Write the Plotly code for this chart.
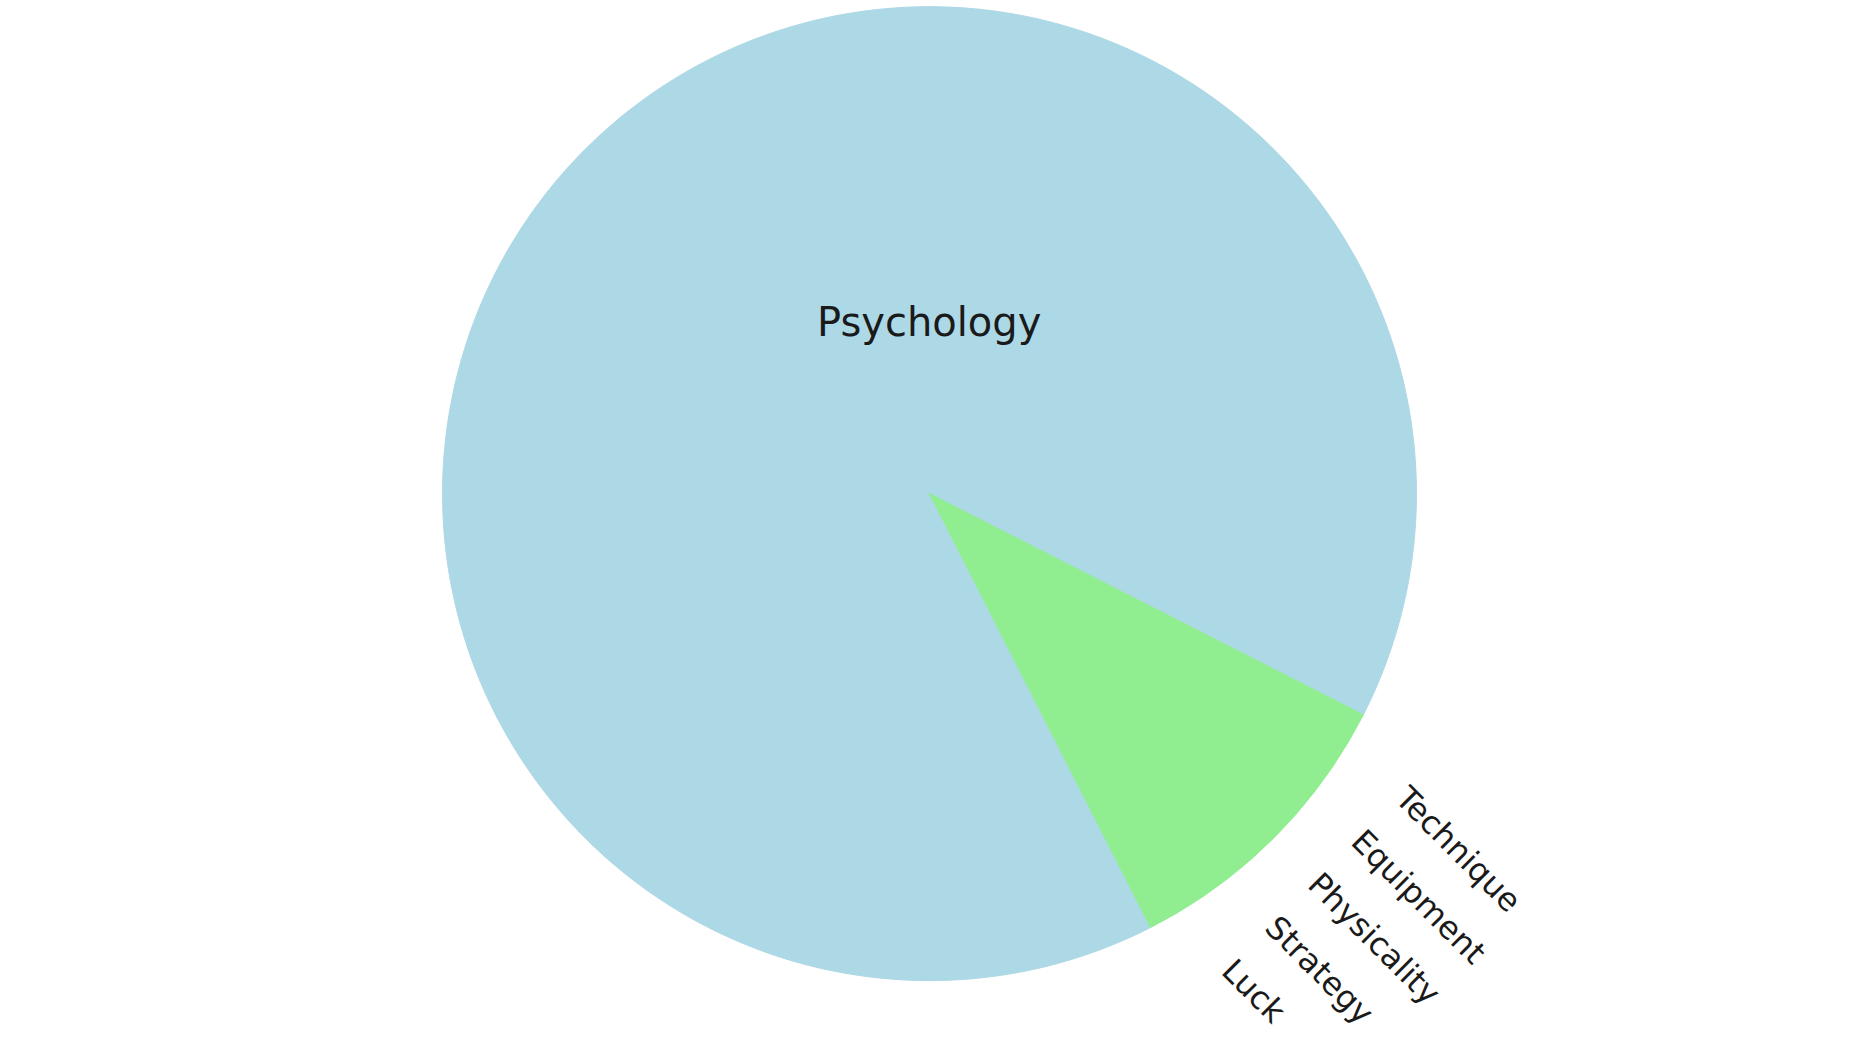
import math
import plotly.graph_objects as go

labels = ["Psychology", "Technique", "Equipment", "Physicality", "Strategy", "Luck"]
values = [90, 2, 2, 2, 2, 2]
colors = ["#ADD8E6", "#90EE90", "#90EE90", "#90EE90", "#90EE90", "#90EE90"]

W, H = 1856, 1043
dom_x = [0.2384, 0.7632]
dom_y = [0.0598, 0.9936]
rotation = 153  # degrees clockwise from 12 o'clock

fig = go.Figure(go.Pie(
    labels=labels,
    values=values,
    sort=False,
    direction="clockwise",
    rotation=rotation,
    marker=dict(colors=colors, line=dict(width=1, color=colors)),
    textinfo="none",
    hoverinfo="label+percent",
    showlegend=False,
    domain=dict(x=dom_x, y=dom_y),
))

cx = (dom_x[0] + dom_x[1]) / 2 * W
cy = (dom_y[0] + dom_y[1]) / 2 * H
R = min((dom_x[1] - dom_x[0]) * W, (dom_y[1] - dom_y[0]) * H) / 2
total = sum(values)
start = 90 - rotation

# mid-angles of every slice (degrees, counterclockwise from 3 o'clock)
mids = []
cum = 0
for v in values:
    mids.append(start - (cum + v / 2) / total * 360)
    cum += v

annotations = []
# main slice label, horizontal in the upper part of the pie
annotations.append(dict(
    x=cx / W, y=(cy + 0.352 * R) / H, xref="paper", yref="paper",
    text=labels[0], showarrow=False, xanchor="center", yanchor="middle",
    font=dict(family="DejaVu Sans", size=40, color="#1a1a1a"),
))

# small-slice labels: laid out along a line just outside the group of small slices
group_mid = sum(mids[1:]) / len(mids[1:])
ux, uy = math.cos(math.radians(group_mid)), math.sin(math.radians(group_mid))
tx, ty = -uy, ux
for lab, mid in zip(labels[1:], mids[1:]):
    off = R * math.radians(mid - group_mid)
    x = cx + 1.07 * R * ux + off * tx
    y = cy + 1.07 * R * uy + off * ty
    annotations.append(dict(
        x=x / W, y=y / H, xref="paper", yref="paper",
        text=lab, showarrow=False, textangle=45,
        xanchor="left", yanchor="top",
        font=dict(family="DejaVu Sans", size=32, color="#1a1a1a"),
    ))

fig.update_layout(
    width=W, height=H,
    margin=dict(l=0, r=0, t=0, b=0),
    paper_bgcolor="white",
    plot_bgcolor="white",
    annotations=annotations,
)

fig.write_html("out.html", config={"displayModeBar": False},
               post_script="document.body.style.margin='0';")
